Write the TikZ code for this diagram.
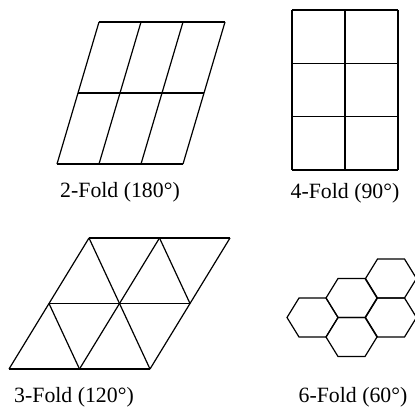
\documentclass[tikz,border=0pt]{standalone}
\usepackage{fontspec}
\setmainfont{Liberation Serif}
\usetikzlibrary{positioning}
\tikzset{
  cellline/.style={line width=0.6pt, black, line join=miter},
  foldlabel/.style={font=\fontsize{10.9}{13}\selectfont, inner sep=0pt},
  hexcell/.pic={\draw[cellline] (-25.5,0) -- (-13.5,-19.5) -- (13.5,-19.5) -- (25.5,0)
      -- (13.5,19.5) -- (-13.5,19.5) -- cycle;}
}

\begin{document}
\begin{tikzpicture}[x=0.5pt, y=-0.5pt]
  \useasboundingbox (0,0) rectangle (415,406);
  % 2-fold: slanted parallelogram grid
  \foreach \xa in {0,1,2,3}
    \draw[cellline] (57+42*\xa,164) -- ++(42,-142);
  \foreach \yf in {0,0.5,1}
    \draw[cellline] (57+42*\yf,164-142*\yf) -- ++(126,0);
  % 4-fold: rectangular grid
  \foreach \xa in {292,345,398}
    \draw[cellline] (\xa,10) -- (\xa,170);
  \foreach \ya in {10,63.3,116.7,170}
    \draw[cellline] (292,\ya) -- (398,\ya);
  % 3-fold: triangles
  \foreach \yk in {0,1,2}
    \draw[cellline] (9+40*\yk,369-65.5*\yk) -- ++(141,0);
  \foreach \xj in {0,1,2}
    \draw[cellline] (9+70.5*\xj,369) -- ++(80,-131);
  \foreach \xi/\yk/\nrow in {0/2/2, 0/1/1, 1/2/1}
    \draw[cellline] (9+70.5*\xi+40*\yk,369-65.5*\yk) -- ++(30.5*\nrow,65.5*\nrow);
  % 6-fold: hexagons
  \foreach \xc/\yc in {312.5/317.5, 351.5/298, 391/278.5, 351.5/337, 391/317.5}
    \pic at (\xc,\yc) {hexcell};
  \node[foldlabel] (lbltwo) at (120,192) {2-Fold (180°)};
  \node[foldlabel] (lblfour) at (345,193) {4-Fold (90°)};
  \node[foldlabel] (lblthree) at (74,397) {3-Fold (120°)};
  \node[foldlabel] (lblsix) at (353,397) {6-Fold (60°)};
\end{tikzpicture}
\end{document}
